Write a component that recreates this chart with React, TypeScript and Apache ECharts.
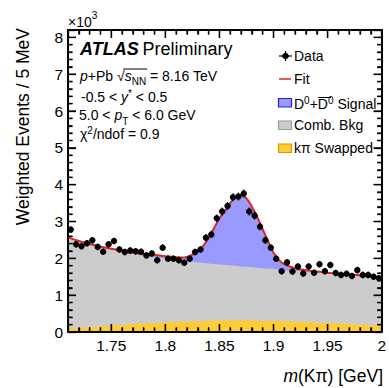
import React, { useEffect, useRef } from "react";
import * as echarts from "echarts";

// ---------------- data (values in units of 10^3) ----------------
const BIN_LOW = 1.71;
const BIN_WIDTH = 0.005;
const X_MIN = 1.71;
const X_MAX = 2.0;
const Y_MIN = 0;
const Y_MAX = 8.2;

const counts = [
  2.78, 2.38, 2.33, 2.41, 2.49, 2.31, 2.18, 2.38, 2.47, 2.24,
  2.17, 2.21, 2.19, 2.18, 2.08, 2.13, 1.95, 2.29, 1.99, 1.99,
  1.95, 1.88, 1.99, 2.17, 2.24, 2.56, 2.65, 3.09, 3.27, 3.42,
  3.66, 3.68, 3.76, 3.27, 3.16, 2.86, 2.49, 2.29, 1.99, 1.65,
  1.89, 1.64, 1.78, 1.59, 1.78, 1.61, 1.84, 1.65, 1.82, 1.60,
  1.55, 1.58, 1.52, 1.68, 1.55, 1.55, 1.50, 1.46,
];
const countErrors = [
  0.09, 0.09, 0.09, 0.09, 0.09, 0.09, 0.09, 0.09, 0.09, 0.09,
  0.09, 0.09, 0.09, 0.09, 0.09, 0.09, 0.09, 0.09, 0.09, 0.09,
  0.09, 0.09, 0.09, 0.09, 0.09, 0.1, 0.1, 0.1, 0.11, 0.11,
  0.11, 0.11, 0.11, 0.11, 0.11, 0.1, 0.1, 0.09, 0.09, 0.09,
  0.09, 0.09, 0.09, 0.09, 0.09, 0.09, 0.09, 0.09, 0.09, 0.09,
  0.09, 0.09, 0.09, 0.09, 0.09, 0.09, 0.09, 0.09,
];

const fitMass = [
  1.71, 1.72, 1.73, 1.74, 1.75, 1.76, 1.77, 1.78, 1.79, 1.8, 1.81,
  1.815, 1.82, 1.825, 1.83, 1.835, 1.84, 1.845, 1.85, 1.855, 1.86,
  1.865, 1.87, 1.875, 1.88, 1.885, 1.89, 1.895, 1.9, 1.905, 1.91,
  1.915, 1.92, 1.93, 1.94, 1.95, 1.96, 1.97, 1.98, 1.99, 2.0,
];
const fitValues = [
  2.57, 2.47, 2.39, 2.32, 2.26, 2.21, 2.16, 2.12, 2.09, 2.06, 2.03,
  2.02, 2.04, 2.1, 2.19, 2.34, 2.55, 2.82, 3.08, 3.29, 3.5,
  3.67, 3.72, 3.63, 3.4, 3.12, 2.79, 2.46, 2.15, 1.95, 1.84,
  1.78, 1.73, 1.68, 1.64, 1.61, 1.58, 1.56, 1.54, 1.51, 1.49,
];

// combinatorial background (stacked on top of swapped component)
const bkgMass = [
  1.71, 1.72, 1.73, 1.74, 1.75, 1.76, 1.77, 1.78, 1.79, 1.8,
  1.81, 1.82, 1.83, 1.84, 1.85, 1.86, 1.87, 1.88, 1.89, 1.9,
  1.91, 1.92, 1.93, 1.94, 1.95, 1.96, 1.97, 1.98, 1.99, 2.0,
];
const bkgValues = [
  2.57, 2.47, 2.39, 2.31, 2.24, 2.18, 2.12, 2.07, 2.03, 1.99,
  1.95, 1.92, 1.89, 1.86, 1.83, 1.81, 1.78, 1.76, 1.73, 1.71,
  1.68, 1.66, 1.63, 1.61, 1.58, 1.56, 1.53, 1.51, 1.48, 1.46,
];

const swapMass = bkgMass;
const swapValues = [
  0.09, 0.11, 0.13, 0.15, 0.17, 0.19, 0.21, 0.23, 0.24, 0.26,
  0.27, 0.28, 0.29, 0.3, 0.31, 0.31, 0.31, 0.31, 0.3, 0.3,
  0.29, 0.28, 0.27, 0.25, 0.24, 0.23, 0.21, 0.2, 0.18, 0.17,
];

// frame tick positions (ROOT style, on all four sides)
const xMajorTicks = [1.75, 1.8, 1.85, 1.9, 1.95];
const xMinorTicks = [
  1.72, 1.73, 1.74, 1.76, 1.77, 1.78, 1.79, 1.81, 1.82, 1.83, 1.84,
  1.86, 1.87, 1.88, 1.89, 1.91, 1.92, 1.93, 1.94, 1.96, 1.97, 1.98, 1.99,
];
const yMajorTicks = [1, 2, 3, 4, 5, 6, 7, 8];
const yMinorTicks = [
  0.2, 0.4, 0.6, 0.8, 1.2, 1.4, 1.6, 1.8, 2.2, 2.4, 2.6, 2.8,
  3.2, 3.4, 3.6, 3.8, 4.2, 4.4, 4.6, 4.8, 5.2, 5.4, 5.6, 5.8,
  6.2, 6.4, 6.6, 6.8, 7.2, 7.4, 7.6, 7.8,
];

// ---------------- styling ----------------
const FF = '"Liberation Sans", Arial, Helvetica, sans-serif';
const BLUE = "#9999ff";
const GRAY = "#cccccc";
const YELLOW = "#ffcc33";
const RED = "#e02424";
const MAJOR_LEN = 8;
const MINOR_LEN = 4.5;

function textWidth(text: string, font: string): number {
  const c = document.createElement("canvas");
  const ctx = c.getContext("2d");
  if (!ctx) return text.length * 7;
  ctx.font = font;
  return ctx.measureText(text).width;
}

function pairs(xs: number[], ys: number[]) {
  return xs.map((x, i) => [x, ys[i]]);
}

function xAxisDef(position: string, showLabels: boolean) {
  return {
    type: "value",
    position,
    min: X_MIN,
    max: X_MAX,
    splitNumber: 5,
    z: 10,
    axisLine: { show: true, onZero: false, lineStyle: { color: "#000", width: 2 } },
    axisTick: { show: true, inside: true, length: MAJOR_LEN, lineStyle: { color: "#000", width: 1.3 } },
    minorTick: { show: true, splitNumber: 5, length: MINOR_LEN, lineStyle: { color: "#000", width: 1.3 } },
    splitLine: { show: false },
    axisLabel: showLabels
      ? {
          show: true,
          margin: 5,
          fontSize: 15.5,
          fontFamily: FF,
          color: "#000",
          formatter: (v: number) => (v < 1.74 ? "" : String(v)),
        }
      : { show: false },
  };
}

function yAxisDef(position: string, showLabels: boolean) {
  return {
    type: "value",
    position,
    min: Y_MIN,
    max: Y_MAX,
    interval: 1,
    z: 10,
    axisLine: { show: true, onZero: false, lineStyle: { color: "#000", width: 2 } },
    axisTick: { show: true, inside: true, length: MAJOR_LEN, lineStyle: { color: "#000", width: 1.3 } },
    minorTick: { show: true, splitNumber: 5, length: MINOR_LEN, lineStyle: { color: "#000", width: 1.3 } },
    splitLine: { show: false },
    axisLabel: showLabels
      ? {
          show: true,
          margin: 5,
          fontSize: 15.5,
          fontFamily: FF,
          color: "#000",
          formatter: (v: number) => (v > 8.05 ? "" : String(v)),
        }
      : { show: false },
  };
}

export default function App() {
  const ref = useRef<HTMLDivElement>(null);

  useEffect(() => {
    if (!ref.current) return;
    const chart = echarts.init(ref.current, undefined, { renderer: "svg" });

    const dataPoints = counts.map((v, i) => [
      BIN_LOW + (i + 0.5) * BIN_WIDTH,
      v,
      countErrors[i],
    ]);

    const f14 = `14px ${FF}`;
    const f14i = `italic 14px ${FF}`;
    const f10 = `10px ${FF}`;
    const line1X = 80;
    const sqrtEnd = line1X + textWidth("p", f14i) + textWidth("+Pb √", f14);
    const sEnd = sqrtEnd + textWidth("s", f14i) + textWidth("NN", f10);
    const legX = 294;
    const d2Start = legX + textWidth("D", f14) + textWidth("0", f10) + textWidth("+", f14);
    const d2End = d2Start + textWidth("D", f14);

    const rich14 = (lh: number) => ({
      n: { fontSize: 14, fontFamily: FF, lineHeight: lh, fill: "#000" },
      i: { fontSize: 14, fontFamily: FF, fontStyle: "italic", lineHeight: lh, fill: "#000" },
      sup: { fontSize: 10, fontFamily: FF, verticalAlign: "top", fill: "#000" },
      sub: { fontSize: 10, fontFamily: FF, verticalAlign: "bottom", fill: "#000" },
    });

    const txt = (x: number, y: number, text: string, rich: any, extra: any = {}) => ({
      type: "text",
      x,
      y,
      silent: true,
      style: {
        text,
        rich: rich || {},
        fontSize: 14,
        fontFamily: FF,
        fill: "#000",
        align: "left",
        verticalAlign: "middle",
        ...extra,
      },
    });

    // frame ticks, placed through the chart's own coordinate system
    const frameTicks = (api: any) => {
      const out: any[] = [];
      const ln = (x1: number, y1: number, x2: number, y2: number) => ({
        type: "line",
        shape: { x1, y1, x2, y2 },
        style: { stroke: "#000000", lineWidth: 1.3, fill: null },
      });
      const addX = (v: number, len: number) => {
        const b = api.coord([v, Y_MIN]);
        const t = api.coord([v, Y_MAX]);
        out.push(ln(b[0], b[1], b[0], b[1] - len));
        out.push(ln(t[0], t[1], t[0], t[1] + len));
      };
      const addY = (v: number, len: number) => {
        const l = api.coord([X_MIN, v]);
        const r = api.coord([X_MAX, v]);
        out.push(ln(l[0], l[1], l[0] + len, l[1]));
        out.push(ln(r[0], r[1], r[0] - len, r[1]));
      };
      xMajorTicks.forEach((v) => addX(v, MAJOR_LEN));
      xMinorTicks.forEach((v) => addX(v, MINOR_LEN));
      yMajorTicks.forEach((v) => addY(v, MAJOR_LEN));
      yMinorTicks.forEach((v) => addY(v, MINOR_LEN));
      return out;
    };

    const option: any = {
      animation: false,
      grid: { left: 68, right: 6, top: 30, bottom: 56 },
      xAxis: [xAxisDef("bottom", true), xAxisDef("top", false)],
      yAxis: [yAxisDef("left", true), yAxisDef("right", false)],
      series: [
        {
          name: "Signal",
          type: "line",
          data: pairs(fitMass, fitValues),
          smooth: 0.4,
          symbol: "none",
          lineStyle: { width: 0 },
          areaStyle: { color: BLUE, opacity: 1 },
          z: 1,
        },
        {
          name: "Comb. Bkg",
          type: "line",
          data: pairs(bkgMass, bkgValues),
          smooth: 0.4,
          symbol: "none",
          lineStyle: { width: 0 },
          areaStyle: { color: GRAY, opacity: 1 },
          z: 1,
        },
        {
          name: "Swapped",
          type: "line",
          data: pairs(swapMass, swapValues),
          smooth: 0.4,
          symbol: "none",
          lineStyle: { width: 0 },
          areaStyle: { color: YELLOW, opacity: 1 },
          z: 1,
        },
        {
          name: "Fit",
          type: "line",
          data: pairs(fitMass, fitValues),
          smooth: 0.4,
          symbol: "none",
          lineStyle: { width: 2, color: RED },
          z: 2,
        },
        {
          name: "Data",
          type: "custom",
          z: 3,
          encode: { x: 0, y: 1 },
          data: dataPoints,
          renderItem: (params: any, api: any) => {
            const x = api.value(0);
            const y = api.value(1);
            const e = api.value(2);
            const top = api.coord([x, y + e]);
            const bot = api.coord([x, y - e]);
            const l = api.coord([x - BIN_WIDTH / 2, y]);
            const r = api.coord([x + BIN_WIDTH / 2, y]);
            const c = api.coord([x, y]);
            const children: any[] = [
              { type: "line", shape: { x1: top[0], y1: top[1], x2: bot[0], y2: bot[1] }, style: { stroke: "#000", lineWidth: 1.2 } },
              { type: "line", shape: { x1: l[0], y1: l[1], x2: r[0], y2: r[1] }, style: { stroke: "#000", lineWidth: 1.2 } },
              { type: "circle", shape: { cx: c[0], cy: c[1], r: 3.2 }, style: { fill: "#000" } },
            ];
            if (params.dataIndex === 0) {
              children.push(...frameTicks(api));
            }
            return { type: "group", children };
          },
        },
      ],
      graphic: [
        txt(68, 22, "{n|×10}{sup|3}", {
          n: { fontSize: 14, fontFamily: FF, lineHeight: 24, fill: "#000" },
          sup: { fontSize: 10, fontFamily: FF, verticalAlign: "top", fill: "#000" },
        }),
        {
          type: "text",
          x: 23,
          y: 28,
          rotation: Math.PI / 2,
          silent: true,
          style: {
            text: "Weighted Events / 5 MeV",
            fontSize: 17.5,
            fontFamily: FF,
            fill: "#000",
            align: "right",
            verticalAlign: "middle",
          },
        },
        txt(383, 376, "{i|m}{n|(Kπ) [GeV]}", {
          i: { fontSize: 17.5, fontFamily: FF, fontStyle: "italic", fill: "#000" },
          n: { fontSize: 17.5, fontFamily: FF, fill: "#000" },
        }, { align: "right" }),
        txt(80, 49, "{b|ATLAS} {n|Preliminary}", {
          b: { fontSize: 18, fontFamily: FF, fontWeight: "bold", fontStyle: "italic", fill: "#000" },
          n: { fontSize: 18, fontFamily: FF, fill: "#000" },
        }),
        txt(line1X, 76, "{i|p}{n|+Pb √}{i|s}{sub|NN}{n| = 8.16 TeV}", rich14(20)),
        {
          type: "line",
          silent: true,
          shape: { x1: sqrtEnd - 1.5, y1: 69, x2: sEnd + 1, y2: 69 },
          style: { stroke: "#000", lineWidth: 1 },
        },
        txt(81, 97, "{n|-0.5 < }{i|y}{sup|*}{n| < 0.5}", rich14(18)),
        txt(79, 115, "{n|5.0 < }{i|p}{sub|T}{n| < 6.0 GeV}", rich14(22)),
        txt(80, 134, "{n|χ}{sup|2}{n|/ndof = 0.9}", rich14(17)),
        { type: "line", silent: true, shape: { x1: 279, y1: 56, x2: 292, y2: 56 }, style: { stroke: "#000", lineWidth: 1.2 } },
        { type: "line", silent: true, shape: { x1: 285.5, y1: 51, x2: 285.5, y2: 61 }, style: { stroke: "#000", lineWidth: 1.2 } },
        { type: "circle", silent: true, shape: { cx: 285.5, cy: 56, r: 3.3 }, style: { fill: "#000" } },
        txt(legX, 56, "Data", null),
        { type: "line", silent: true, shape: { x1: 279, y1: 79, x2: 291, y2: 79 }, style: { stroke: RED, lineWidth: 1.5 } },
        txt(legX, 79, "Fit", null),
        { type: "rect", silent: true, shape: { x: 278.5, y: 98.5, width: 13, height: 8.5 }, style: { fill: BLUE, stroke: "#2222cc", lineWidth: 1.2 } },
        txt(legX, 104, "{n|D}{sup|0}{n|+D}{sup|0}{n| Signal}", rich14(18)),
        {
          type: "line",
          silent: true,
          shape: { x1: d2Start + 0.5, y1: 97.5, x2: d2End + 3, y2: 97.5 },
          style: { stroke: "#000", lineWidth: 1 },
        },
        { type: "rect", silent: true, shape: { x: 278.5, y: 121, width: 13, height: 8.5 }, style: { fill: GRAY, stroke: "#999999", lineWidth: 1.2 } },
        txt(legX, 125, "Comb. Bkg", null),
        { type: "rect", silent: true, shape: { x: 278.5, y: 144, width: 13, height: 8.5 }, style: { fill: YELLOW, stroke: "#e69500", lineWidth: 1.2 } },
        txt(legX, 147.5, "kπ Swapped", null),
      ],
    };

    chart.setOption(option);
    return () => {
      chart.dispose();
    };
  }, []);

  return (
    <div
      ref={ref}
      style={{ position: "absolute", left: 0, top: 0, width: 389, height: 388 }}
    />
  );
}
